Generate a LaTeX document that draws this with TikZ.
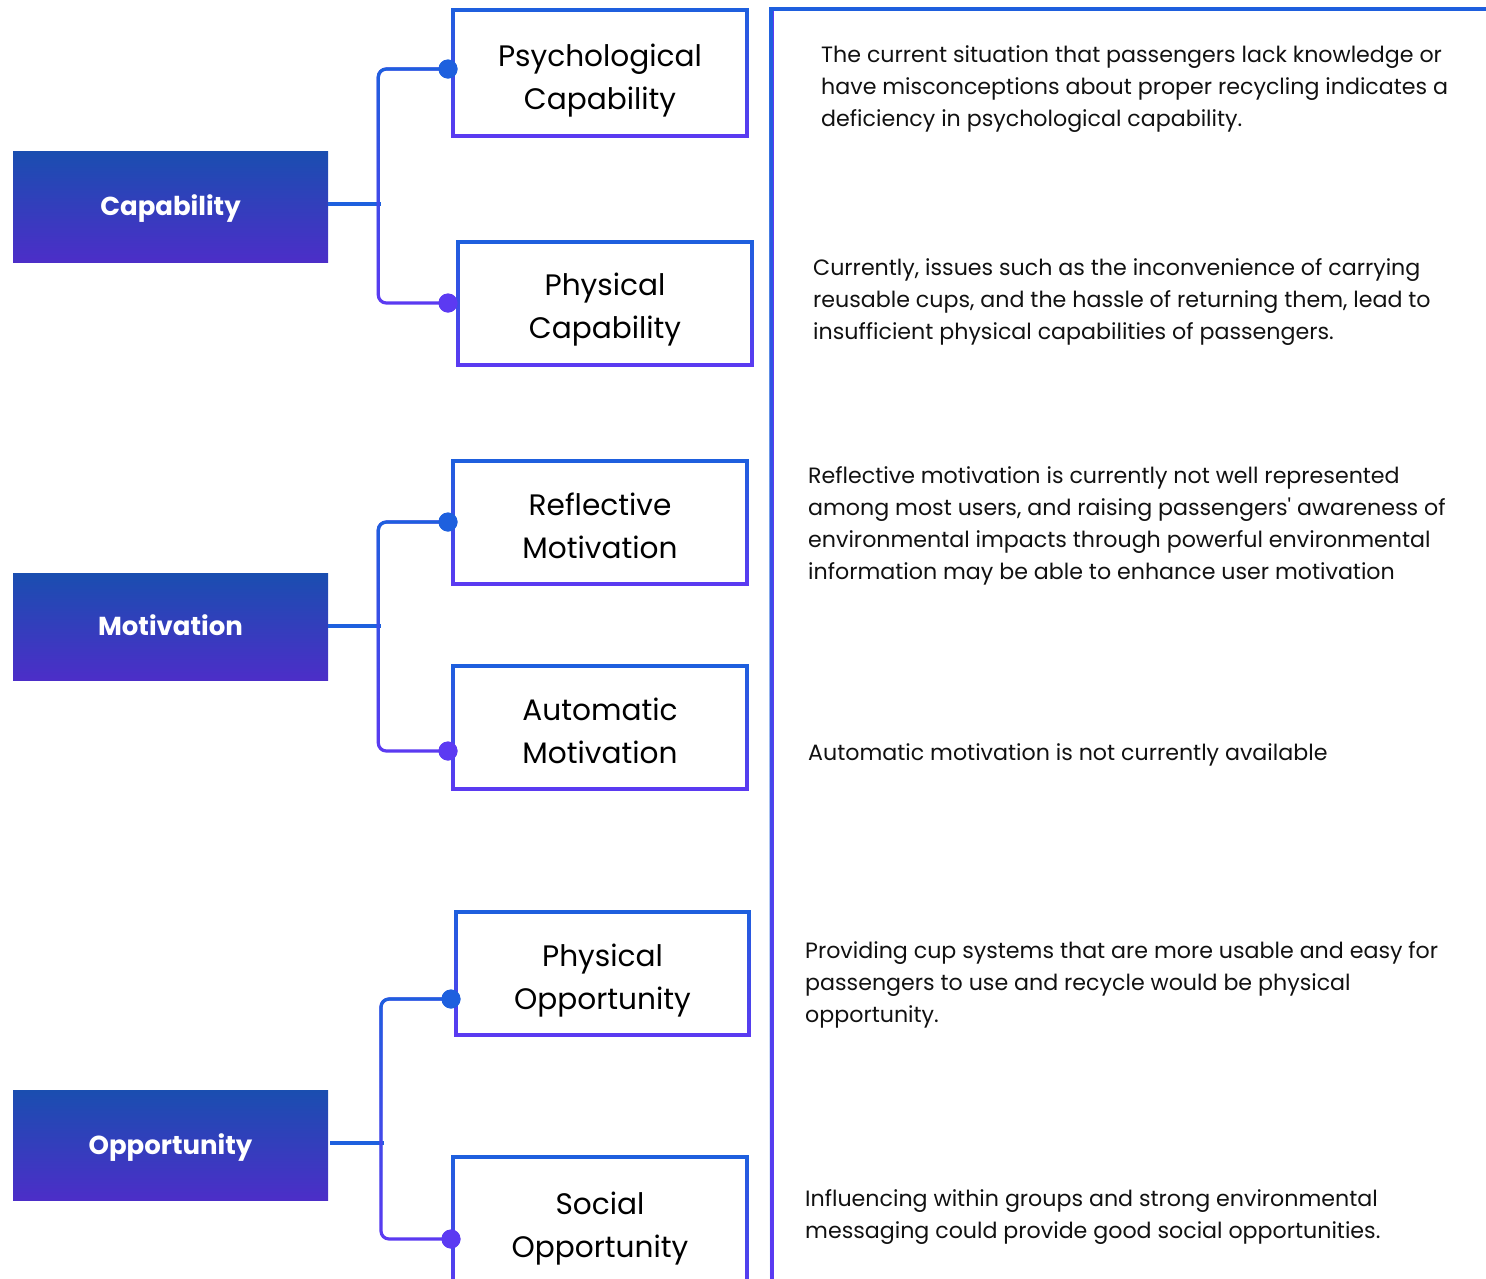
\documentclass[tikz,border=0pt]{standalone}
\usepackage{fontspec}
\setmainfont{Poppins}[Ligatures=TeXOff]
\usetikzlibrary{fadings}
\definecolor{edgeblue}{RGB}{30,96,222}
\definecolor{edgeviolet}{RGB}{92,58,242}
\definecolor{filltop}{RGB}{26,78,176}
\definecolor{fillbot}{RGB}{76,46,200}
\definecolor{ink}{RGB}{17,17,17}
\begin{document}
\begin{tikzpicture}[x=1pt,y=-1pt,
  factor/.style={rectangle, minimum width=315pt, inner sep=0pt, top color=filltop, bottom color=fillbot,
    text=white, text height=18.5pt, text depth=0pt, font=\fontsize{26}{30}\selectfont\bfseries},
  subbox/.style={rectangle, minimum width=294pt, minimum height=123pt, inner sep=0pt},
  subtext/.style={inner sep=0pt, align=center, font=\fontsize{29.6}{43}\selectfont, text=black},
  note/.style={anchor=north west, inner sep=0pt, align=left, font=\fontsize{22.15}{32}\selectfont, text=ink},
  edge/.style={line width=4pt},
  link/.style={line width=3.2pt, rounded corners=8pt},
  stub/.style={line width=4pt, edgeblue},
  dot/.style={circle, inner sep=0pt, minimum size=19pt},
  fadeblue/.style={edgeblue, path fading=south},
]
\useasboundingbox (0,0) rectangle (1486,1278);
\clip (0,0) rectangle (1486,1278);

% right-hand panel frame
\draw[edge, edgeviolet] (1500,9) -- (772,9) -- (772,1300);
\draw[edge, fadeblue] (1500,9) -- (772,9) -- (772,1300);

% COM-B factors
\node[factor, minimum height=111pt] (cap) at (170.5,206.5) {Capability};
\node[factor, minimum height=107pt] (mot) at (170.5,626.5) {Motivation};
\node[factor, minimum height=110pt] (opp) at (170.5,1145) {Opportunity};

% sub-component frames
\node[subbox, minimum height=126pt] (psy) at (600,73) {};
\node[subbox] (phc) at (605,303.5) {};
\node[subbox] (ref) at (600,522.5) {};
\node[subbox] (aut) at (600,727.5) {};
\node[subbox, minimum width=293pt] (pho) at (602.5,973.5) {};
\node[subbox, minimum height=130pt] (soc) at (600,1222) {};

\foreach \b in {psy,phc,ref,aut,pho,soc}{
  \draw[edge, edgeviolet] (\b.north west) rectangle (\b.south east);
  \draw[edge, fadeblue] (\b.north west) rectangle (\b.south east);
}

% sub-component titles
\node[subtext] (psyt) at ([yshift=-8pt]psy.center) {Psychological\\Capability};
\node[subtext] (phct) at ([yshift=-6pt]phc.center) {Physical\\Capability};
\node[subtext] (reft) at ([yshift=-3.5pt]ref.center) {Reflective\\Motivation};
\node[subtext] (autt) at ([yshift=-3.5pt]aut.center) {Automatic\\Motivation};
\node[subtext] (phot) at ([yshift=-7pt]pho.center) {Physical\\Opportunity};
\node[subtext] (soct) at ([yshift=-7pt]soc.center) {Social\\Opportunity};

% junction points on the branch trunks
\coordinate (capj) at (378.3,204);
\coordinate (motj) at (378.3,626);
\coordinate (oppj) at (381,1143);

% branch end dots
\node[dot, fill=edgeblue] (psyd) at (448,69) {};
\node[dot, fill=edgeviolet] (phcd) at (448,303) {};
\node[dot, fill=edgeblue] (refd) at (448,522) {};
\node[dot, fill=edgeviolet] (autd) at (448,751) {};
\node[dot, fill=edgeblue] (phod) at (451,999) {};
\node[dot, fill=edgeviolet] (socd) at (451,1239) {};

% stubs from the factors to the trunks
\draw[stub] (cap.east |- capj) -- ([xshift=3pt]capj);
\draw[stub] (mot.east |- motj) -- ([xshift=3pt]motj);
\draw[stub] ([xshift=2pt]opp.east |- oppj) -- ([xshift=3pt]oppj);

% trunks, blue at the top fading into violet at the bottom
\foreach \t/\j/\u in {psyd/capj/phcd, refd/motj/autd, phod/oppj/socd}{
  \draw[link, edgeviolet] (\t.center) -| (\j) |- (\u.center);
  \draw[link, fadeblue] (\t.center) -| (\j) |- (\u.center);
}

% redraw the dots above the trunks
\node[dot, fill=edgeblue] at (psyd) {};
\node[dot, fill=edgeviolet] at (phcd) {};
\node[dot, fill=edgeblue] at (refd) {};
\node[dot, fill=edgeviolet] at (autd) {};
\node[dot, fill=edgeblue] at (phod) {};
\node[dot, fill=edgeviolet] at (socd) {};

% descriptions
\node[note] (n1) at (821,45.2) {The current situation that passengers lack knowledge or\\have misconceptions about proper recycling indicates a\\deficiency in psychological capability.};
\node[note] (n2) at (813,258.2) {Currently, issues such as the inconvenience of carrying\\reusable cups, and the hassle of returning them, lead to\\insufficient physical capabilities of passengers.};
\node[note] (n3) at (808,466.2) {Reflective motivation is currently not well represented\\among most users, and raising passengers' awareness of\\environmental impacts through powerful environmental\\information may be able to enhance user motivation};
\node[note] (n4) at (808,743.2) {Automatic motivation is not currently available};
\node[note] (n5) at (805,941.2) {Providing cup systems that are more usable and easy for\\passengers to use and recycle would be physical\\opportunity.};
\node[note] (n6) at (805,1189.2) {Influencing within groups and strong environmental\\messaging could provide good social opportunities.};
\end{tikzpicture}
\end{document}
